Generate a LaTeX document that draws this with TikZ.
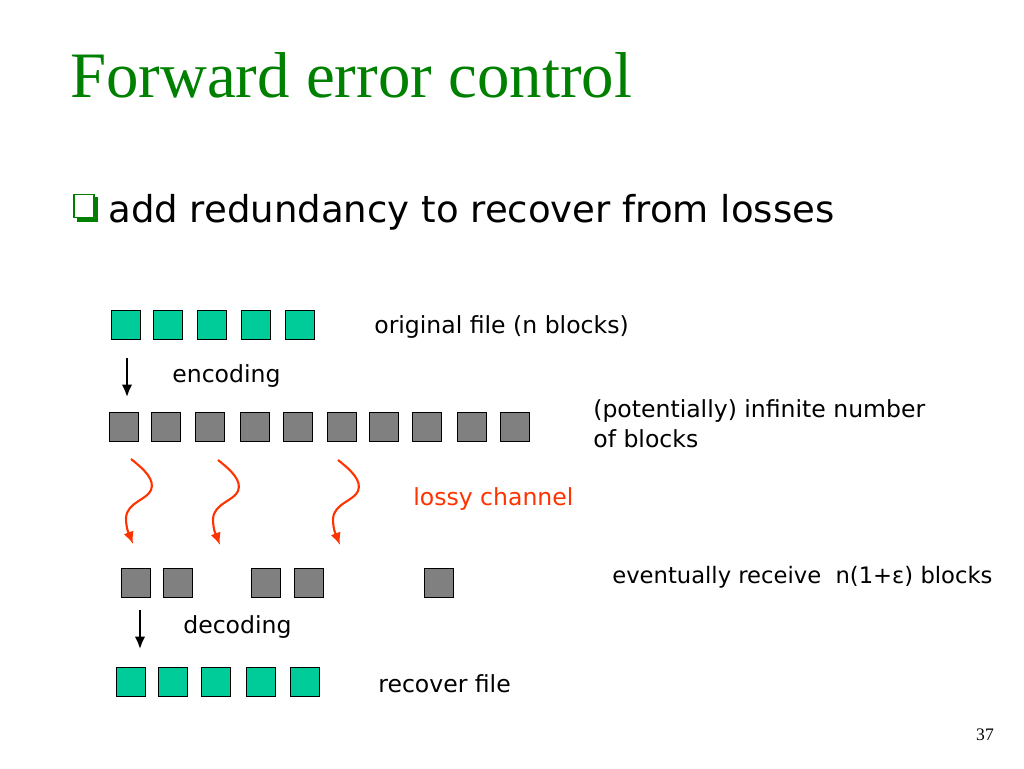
\documentclass[tikz,border=0pt]{standalone}
\usepackage{fontspec}
\setmainfont{DejaVu Sans}
\newfontfamily\titlefont{Liberation Serif}
\usetikzlibrary{positioning}
\usetikzlibrary{calc}
\usetikzlibrary{arrows.meta}
\definecolor{titlegreen}{RGB}{0,128,0}
\definecolor{blockgreen}{RGB}{0,204,153}
\definecolor{blockgray}{RGB}{128,128,128}
\definecolor{lossred}{RGB}{255,51,0}
\tikzset{greenbox/.style={draw, line width=0.6pt, minimum size=0.57cm, inner sep=0pt, fill=blockgreen}}
\tikzset{graybox/.style={draw, line width=0.6pt, minimum size=0.57cm, inner sep=0pt, fill=blockgray}}
\tikzset{lbl/.style={anchor=west, inner sep=0pt, font=\fontsize{13.4}{17}\selectfont}}
\tikzset{codearrow/.style={-{Latex[length=7pt,width=6pt]}, line width=1.2pt}}
\tikzset{lossarrow/.style={-{Latex[length=7pt,width=6pt]}, line width=1.2pt, draw=lossred}}

\begin{document}
\begin{tikzpicture}[x=0.02cm, y=-0.02cm]

\useasboundingbox[fill=white] (0,0) rectangle (1024,768);

\node[anchor=base west, inner sep=0pt, text=titlegreen, font=\titlefont\fontsize{36.9}{40}\selectfont] (title) at (70, 97) {Forward error control};

% bullet with shadow
\fill[titlegreen] (77,197) rectangle (98,222);
\node[draw=titlegreen, fill=white, line width=0.9pt, minimum width=0.4cm, minimum height=0.46cm, inner sep=0pt] (bullet) at (84, 206) {};
\node[anchor=base west, inner sep=0pt, font=\fontsize{21.1}{24}\selectfont] (point) at (108, 222) {add redundancy to recover from losses};

% original file
\node[greenbox] (o1) at (126, 325) {};
\node[greenbox] (o2) at (168, 325) {};
\node[greenbox] (o3) at (212, 325) {};
\node[greenbox] (o4) at (256, 325) {};
\node[greenbox] (o5) at (300, 325) {};
\node[lbl] (orig) at (374, 327) {original file (n blocks)};

\coordinate (enc1) at (127, 358);
\coordinate (enc2) at (127, 397);
\draw[codearrow] (enc1) -- (enc2);
\node[lbl] (enc) at (172, 376) {encoding};

% encoded blocks
\node[graybox] (e1) at (124, 427) {};
\node[graybox] (e2) at (166, 427) {};
\node[graybox] (e3) at (210, 427) {};
\node[graybox] (e4) at (255, 427) {};
\node[graybox] (e5) at (298, 427) {};
\node[graybox] (e6) at (342, 427) {};
\node[graybox] (e7) at (384, 427) {};
\node[graybox] (e8) at (427, 427) {};
\node[graybox] (e9) at (472, 427) {};
\node[graybox] (e10) at (515, 427) {};
\node[lbl, align=left] (inf) at (593, 424) {(potentially) infinite number\\of blocks};

% lossy channel
\coordinate (s1) at (131, 459);
\coordinate (t1) at (133, 544);
\coordinate (s2) at (218, 460);
\coordinate (t2) at (220, 545);
\coordinate (s3) at (338, 460);
\coordinate (t3) at (340, 545);
\draw[lossarrow] (s1) .. controls ($(s1)+(14,11)$) and ($(s1)+(24,21)$) .. ($(s1)+(20,31)$) .. controls ($(s1)+(16,41)$) and ($(s1)+(-4,43)$) .. ($(s1)+(-5,59)$) .. controls ($(s1)+(-5,71)$) and ($(s1)+(-1,77)$) .. (t1);
\draw[lossarrow] (s2) .. controls ($(s2)+(14,11)$) and ($(s2)+(24,21)$) .. ($(s2)+(20,31)$) .. controls ($(s2)+(16,41)$) and ($(s2)+(-4,43)$) .. ($(s2)+(-5,59)$) .. controls ($(s2)+(-5,71)$) and ($(s2)+(-1,77)$) .. (t2);
\draw[lossarrow] (s3) .. controls ($(s3)+(14,11)$) and ($(s3)+(24,21)$) .. ($(s3)+(20,31)$) .. controls ($(s3)+(16,41)$) and ($(s3)+(-4,43)$) .. ($(s3)+(-5,59)$) .. controls ($(s3)+(-5,71)$) and ($(s3)+(-1,77)$) .. (t3);
\node[lbl, text=lossred] (lossy) at (413, 499) {lossy channel};

% received blocks
\node[graybox] (r1) at (136, 583) {};
\node[graybox] (r2) at (178, 583) {};
\node[graybox] (r3) at (266, 583) {};
\node[graybox] (r4) at (309, 583) {};
\node[graybox] (r5) at (439, 583) {};
\node[lbl, font=\fontsize{12.9}{16}\selectfont] (recv) at (612, 577) {eventually receive\ \ n(1+ε) blocks};

\coordinate (dec1) at (140, 610);
\coordinate (dec2) at (140, 649);
\draw[codearrow] (dec1) -- (dec2);
\node[lbl] (dec) at (183, 627) {decoding};

% recovered file
\node[greenbox] (d1) at (131, 682) {};
\node[greenbox] (d2) at (173, 682) {};
\node[greenbox] (d3) at (216, 682) {};
\node[greenbox] (d4) at (261, 682) {};
\node[greenbox] (d5) at (305, 682) {};
\node[lbl] (rec) at (378, 684) {recover file};

\node[inner sep=0pt, font=\titlefont\fontsize{10}{12}\selectfont] (page) at (985, 735) {37};

\end{tikzpicture}
\end{document}
